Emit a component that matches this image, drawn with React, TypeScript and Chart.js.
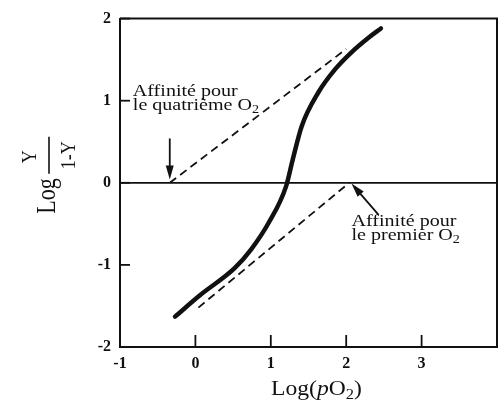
import React, { useEffect, useRef } from "react";
import { Chart, registerables } from "chart.js";

Chart.register(...registerables);

// ---- Data ----
// Hill plot: Log(pO2) vs Log(Y/(1-Y))
const hillX = [-0.27, 0.06, 0.52, 0.74, 0.97, 1.2, 1.29, 1.41, 1.63, 1.86, 2.07, 2.3, 2.46];
const hillY = [-1.63, -1.37, -1.04, -0.81, -0.49, -0.05, 0.28, 0.69, 1.1, 1.39, 1.59, 1.77, 1.88];

// Asymptote: affinity for the fourth O2
const fourthX = [-0.34, 2.0];
const fourthY = [0, 1.63];

// Asymptote: affinity for the first O2
const firstX = [0.04, 2.04];
const firstY = [-1.52, 0];

// Reference line Log(Y/(1-Y)) = 0
const zeroX = [-1, 4];
const zeroY = [0, 0];

// Axis ticks
const xTicks = [-1, 0, 1, 2, 3];
const yTicks = [-2, -1, 0, 1, 2];
const xMin = -1;
const xMax = 4;
const yMin = -2;
const yMax = 2;

// Annotation arrows [x, y] (tail -> head)
const arrow4Tail = [-0.34, 0.54];
const arrow4Head = [-0.34, 0.04];
const arrow1Tail = [2.43, -0.39];
const arrow1Head = [2.07, -0.01];

// Annotation texts anchored at [x, y]
const note4Anchor = [-0.83, 1.06];
const note4Lines = ["Affinité pour", "le quatrième O"];
const note1Anchor = [2.07, -0.53];
const note1Lines = ["Affinité pour", "le premier O"];

const INK = "#111";
const SERIF = "'Liberation Serif', 'Times New Roman', serif";
const SX = 1.18; // horizontal stretch of the scanned text

type Part = { t: string; size: number; italic?: boolean; dy?: number };

function runWidth(ctx: CanvasRenderingContext2D, parts: Part[]) {
  let w = 0;
  for (const p of parts) {
    ctx.font = `${p.italic ? "italic " : ""}${p.size}px ${SERIF}`;
    w += ctx.measureText(p.t).width;
  }
  return w;
}

function drawRun(
  ctx: CanvasRenderingContext2D,
  parts: Part[],
  x: number,
  y: number,
  align: "left" | "center" = "left"
) {
  ctx.save();
  ctx.translate(x, y);
  ctx.scale(SX, 1);
  ctx.textAlign = "left";
  ctx.textBaseline = "alphabetic";
  ctx.fillStyle = INK;
  let cx = align === "center" ? -runWidth(ctx, parts) / 2 : 0;
  for (const p of parts) {
    ctx.font = `${p.italic ? "italic " : ""}${p.size}px ${SERIF}`;
    ctx.fillText(p.t, cx, p.dy || 0);
    cx += ctx.measureText(p.t).width;
  }
  ctx.restore();
}

function drawArrow(ctx: CanvasRenderingContext2D, x1: number, y1: number, x2: number, y2: number) {
  const ang = Math.atan2(y2 - y1, x2 - x1);
  const len = 14;
  const hw = 4;
  ctx.save();
  ctx.strokeStyle = INK;
  ctx.fillStyle = INK;
  ctx.lineWidth = 1.8;
  ctx.beginPath();
  ctx.moveTo(x1, y1);
  ctx.lineTo(x2 - Math.cos(ang) * (len - 2), y2 - Math.sin(ang) * (len - 2));
  ctx.stroke();
  ctx.beginPath();
  ctx.moveTo(x2, y2);
  ctx.lineTo(x2 - Math.cos(ang) * len - Math.sin(ang) * hw, y2 - Math.sin(ang) * len + Math.cos(ang) * hw);
  ctx.lineTo(x2 - Math.cos(ang) * len + Math.sin(ang) * hw, y2 - Math.sin(ang) * len - Math.cos(ang) * hw);
  ctx.closePath();
  ctx.fill();
  ctx.restore();
}

const decorPlugin = {
  id: "decor",
  afterDraw(chart: any) {
    const ctx: CanvasRenderingContext2D = chart.ctx;
    const { left, right, top, bottom } = chart.chartArea;
    const xs = chart.scales.x;
    const ys = chart.scales.y;

    ctx.save();
    ctx.strokeStyle = INK;
    ctx.lineWidth = 2;
    // top and right frame
    ctx.beginPath();
    ctx.moveTo(left, top);
    ctx.lineTo(right, top);
    ctx.lineTo(right, bottom);
    ctx.stroke();

    // inward tick marks
    ctx.lineWidth = 1.8;
    for (const v of yTicks) {
      const py = ys.getPixelForValue(v);
      ctx.beginPath();
      ctx.moveTo(left, py);
      ctx.lineTo(left + 10, py);
      ctx.stroke();
    }
    for (const v of xTicks) {
      const px = xs.getPixelForValue(v);
      ctx.beginPath();
      ctx.moveTo(px, bottom);
      ctx.lineTo(px, bottom - 12);
      ctx.stroke();
    }
    ctx.restore();

    // arrows
    drawArrow(
      ctx,
      xs.getPixelForValue(arrow4Tail[0]),
      ys.getPixelForValue(arrow4Tail[1]),
      xs.getPixelForValue(arrow4Head[0]),
      ys.getPixelForValue(arrow4Head[1])
    );
    drawArrow(
      ctx,
      xs.getPixelForValue(arrow1Tail[0]),
      ys.getPixelForValue(arrow1Tail[1]),
      xs.getPixelForValue(arrow1Head[0]),
      ys.getPixelForValue(arrow1Head[1])
    );

    // annotation texts
    const fs = 17;
    const lh = 14;
    const drawNote = (anchor: number[], lines: string[]) => {
      const ax = xs.getPixelForValue(anchor[0]);
      const ay = ys.getPixelForValue(anchor[1]);
      drawRun(ctx, [{ t: lines[0], size: fs }], ax, ay);
      drawRun(
        ctx,
        [
          { t: lines[1], size: fs },
          { t: "2", size: 12, dy: 3 },
        ],
        ax,
        ay + lh
      );
    };
    drawNote(note4Anchor, note4Lines);
    drawNote(note1Anchor, note1Lines);

    // x axis title: Log(pO2)
    drawRun(
      ctx,
      [
        { t: "Log(", size: 20 },
        { t: "p", size: 20, italic: true },
        { t: "O", size: 20 },
        { t: "2", size: 14, dy: 4 },
        { t: ")", size: 20 },
      ],
      (left + right) / 2 + 8,
      chart.height - 7,
      "center"
    );

    // y axis title: Log Y/(1-Y), rotated
    const rot = (x: number, y: number, text: string, size: number, align: CanvasTextAlign) => {
      ctx.save();
      ctx.translate(x, y);
      ctx.rotate(-Math.PI / 2);
      ctx.scale(1, 1.2);
      ctx.font = `${size}px ${SERIF}`;
      ctx.fillStyle = INK;
      ctx.textAlign = align;
      ctx.textBaseline = "alphabetic";
      ctx.fillText(text, 0, 0);
      ctx.restore();
    };
    const cy = (top + bottom) / 2;
    rot(left - 65, cy + 31, "Log", 22, "left");
    rot(left - 84, cy - 26, "Y", 18, "center");
    rot(left - 45, cy - 27.5, "1-Y", 18, "center");
    ctx.save();
    ctx.strokeStyle = INK;
    ctx.lineWidth = 1.6;
    ctx.beginPath();
    ctx.moveTo(left - 71, cy - 46);
    ctx.lineTo(left - 71, cy - 9);
    ctx.stroke();
    ctx.restore();
  },
};

function pts(xs: number[], ys: number[]) {
  return xs.map((x, i) => ({ x, y: ys[i] }));
}

export default function App() {
  const ref = useRef<HTMLCanvasElement>(null);

  useEffect(() => {
    const canvas = ref.current;
    if (!canvas) return;
    const tickFont = { family: SERIF, size: 16, weight: "bold" };
    const chart = new Chart(canvas, {
      type: "scatter",
      data: {
        datasets: [
          {
            data: pts(zeroX, zeroY),
            showLine: true,
            borderColor: INK,
            borderWidth: 1.8,
            pointRadius: 0,
          },
          {
            data: pts(fourthX, fourthY),
            showLine: true,
            borderColor: INK,
            borderWidth: 1.8,
            borderDash: [8, 5],
            pointRadius: 0,
          },
          {
            data: pts(firstX, firstY),
            showLine: true,
            borderColor: INK,
            borderWidth: 1.8,
            borderDash: [8, 5],
            pointRadius: 0,
          },
          {
            data: pts(hillX, hillY),
            showLine: true,
            borderColor: INK,
            borderWidth: 4.5,
            borderCapStyle: "round",
            cubicInterpolationMode: "monotone",
            pointRadius: 0,
          },
        ],
      } as any,
      options: {
        responsive: false,
        devicePixelRatio: 1,
        animation: false,
        layout: { padding: { left: 0, top: 11, right: 5, bottom: 0 } },
        plugins: {
          legend: { display: false },
          tooltip: { enabled: false },
        },
        scales: {
          x: {
            type: "linear",
            min: xMin,
            max: xMax,
            afterBuildTicks: (s: any) => {
              s.ticks = xTicks.map((v) => ({ value: v }));
            },
            afterFit: (s: any) => {
              s.height = 55;
            },
            grid: { display: false, drawTicks: false },
            border: { display: true, color: INK, width: 2 },
            ticks: { color: INK, font: tickFont, padding: 7, maxRotation: 0 },
          },
          y: {
            type: "linear",
            min: yMin,
            max: yMax,
            afterBuildTicks: (s: any) => {
              s.ticks = yTicks.map((v) => ({ value: v }));
            },
            afterFit: (s: any) => {
              s.width = 120;
            },
            grid: { display: false, drawTicks: false },
            border: { display: true, color: INK, width: 2 },
            ticks: { color: INK, font: tickFont, padding: 9 },
          },
        },
      } as any,
      plugins: [decorPlugin],
    });
    return () => chart.destroy();
  }, []);

  return (
    <div
      style={{
        position: "fixed",
        left: 0,
        top: 0,
        width: 502,
        height: 402,
        background: "#fff",
      }}
    >
      <canvas ref={ref} width={502} height={402} style={{ display: "block", width: 502, height: 402 }} />
    </div>
  );
}
